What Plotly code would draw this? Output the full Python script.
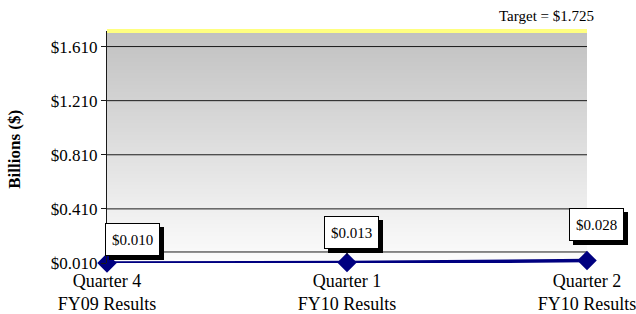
import plotly.graph_objects as go

# ---- data ----
categories = ["Quarter 4<br>FY09 Results", "Quarter 1<br>FY10 Results", "Quarter 2<br>FY10 Results"]
values = [0.010, 0.013, 0.028]
target = 1.725
y_tickvals = [0.010, 0.410, 0.810, 1.210, 1.610]
y_ticktext = ["$%.3f" % v for v in y_tickvals]
y_title = "Billions ($)"
target_text = "Target = $%.3f" % target

FONT = "Liberation Serif, Times New Roman, serif"
x_idx = list(range(len(categories)))
ymin = y_tickvals[0]

fig = go.Figure()

# gradient background (grey at top to white at bottom), overlapping stripes
shapes = []
n = 60
step = (target - ymin) / n
for i in range(n):
    y0 = ymin + step * i
    y1 = min(target, y0 + step * 2)
    f = (i + 0.5) / n
    c = int(round(253 - (253 - 192) * f))
    shapes.append(dict(type="rect", xref="paper", yref="y", x0=0, x1=1, y0=y0, y1=y1,
                       fillcolor="rgb(%d,%d,%d)" % (c, c, c), line=dict(width=0), layer="below"))
# horizontal rules at tick values
for v in y_tickvals[1:]:
    shapes.append(dict(type="line", xref="paper", yref="y", x0=0, x1=1, y0=v, y1=v,
                       line=dict(color="#1a1a1a", width=1), layer="below"))
# bottom rule of plot area
shapes.append(dict(type="line", xref="paper", yref="paper", x0=0, x1=1, y0=0.0475, y1=0.0475,
                   line=dict(color="#1a1a1a", width=1), layer="below"))
# target line (top edge of the value range)
shapes.append(dict(type="line", xref="paper", yref="paper", x0=0, x1=1, y0=1.0, y1=1.0,
                   line=dict(color="#ffff80", width=4), layer="below"))
# leader line for middle label
shapes.append(dict(type="line", xref="x", yref="y", xsizemode="pixel", ysizemode="pixel",
                   xanchor=x_idx[1], yanchor=values[1], x0=0, x1=0, y0=7, y1=14,
                   line=dict(color="black", width=1)))

fig.add_trace(go.Scatter(
    x=x_idx, y=values, mode="lines+markers",
    line=dict(color="#000080", width=3.5),
    marker=dict(symbol="diamond", size=15, color="#000080"),
    cliponaxis=False, showlegend=False, hoverinfo="skip"))

annotations = []
label_shift = [(25.5, 23.5), (4.5, 30.5), (9, 36)]
for i, v in enumerate(values):
    xs, ys = label_shift[i]
    txt = "$%.3f" % v
    common = dict(x=x_idx[i], y=v, xref="x", yref="y", showarrow=False,
                  xanchor="center", yanchor="middle",
                  width=49, height=27, borderpad=2, borderwidth=1)
    # drop shadow
    annotations.append(dict(common, text="&nbsp;", xshift=xs + 4, yshift=ys - 4, bgcolor="black",
                            bordercolor="black", font=dict(family=FONT, size=15, color="black")))
    annotations.append(dict(common, text=txt, xshift=xs, yshift=ys, bgcolor="white",
                            bordercolor="black", font=dict(family=FONT, size=15, color="black")))

annotations.append(dict(x=0.915, y=target, xref="paper", yref="y", yshift=15.5,
                        xanchor="center", yanchor="middle",
                        showarrow=False, text=target_text,
                        font=dict(family=FONT, size=15, color="black")))
annotations.append(dict(x=-0.1917, y=0.4925, xref="paper", yref="paper", showarrow=False,
                        xanchor="center", yanchor="middle",
                        text="<b>%s</b>" % y_title, textangle=-90,
                        font=dict(family=FONT, size=17, color="black")))

fig.update_layout(
    width=636, height=314,
    margin=dict(l=107, r=49, t=31, b=51, pad=0),
    paper_bgcolor="white", plot_bgcolor="white",
    font=dict(family=FONT, size=17, color="black"),
    shapes=shapes, annotations=annotations,
    xaxis=dict(range=[0, 2], tickvals=x_idx, ticktext=categories, showgrid=False,
               zeroline=False, showline=False, ticks="outside", ticklen=1,
               tickcolor="rgba(0,0,0,0)", automargin=False,
               ticklabeloverflow="allow",
               tickfont=dict(size=18, color="black")),
    yaxis=dict(range=[ymin, target], tickvals=y_tickvals, ticktext=y_ticktext, showgrid=False,
               zeroline=False, showline=True, linecolor="#1a1a1a", linewidth=1,
               ticks="outside", ticklen=5, tickcolor="#1a1a1a", automargin=False,
               tickfont=dict(size=17, color="black")),
)

fig.write_html("out.html", config={"displayModeBar": False},
               post_script="document.body.style.margin='0';document.body.style.overflow='hidden';")
